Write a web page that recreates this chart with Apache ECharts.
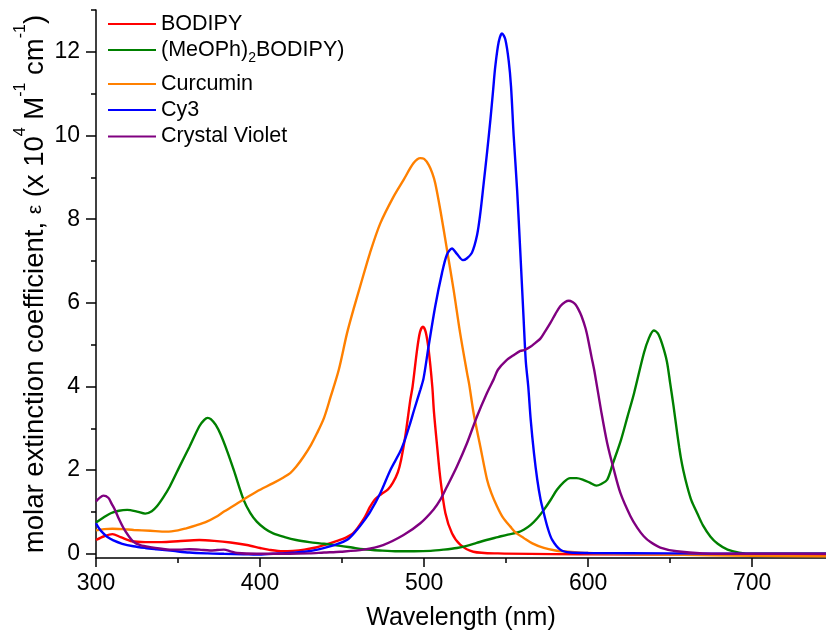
<!DOCTYPE html>
<html>
<head>
<meta charset="utf-8">
<script src="https://cdn.jsdelivr.net/npm/echarts@6/dist/echarts.min.js"></script>
<style>
  html, body { margin: 0; padding: 0; background: #fff; }
  #chart { width: 826px; height: 636px; }
</style>
</head>
<body>
<div id="chart"></div>
<script>
// Absorption spectra: [wavelength (nm), epsilon (x 10^4 M^-1 cm^-1)]
const bodipy = [
  [300,0.33],[305,0.42],[310,0.47],[315,0.40],[322,0.30],[330,0.28],[340,0.28],[350,0.30],
  [363,0.33],[372,0.31],[382,0.27],[392,0.21],[400,0.14],[405,0.10],[414,0.06],[420,0.07],
  [427,0.10],[434,0.15],[440,0.22],[447,0.31],[452,0.38],[457,0.50],[463,0.82],[467,1.12],
  [470,1.30],[474,1.43],[478,1.54],[481,1.70],[484,1.95],[486,2.25],[488.5,2.80],[491.6,3.68],
  [493,4.00],[495.7,4.87],[497.5,5.30],[499.3,5.43],[501,5.30],[502.8,4.87],[505,4.00],[506,3.40],
  [508,2.55],[510,1.77],[513,0.97],[517,0.49],[522,0.22],[530,0.05],[545,0.01],[600,-0.01],
  [700,-0.02],[745,-0.03]
];

const meophBodipy = [
  [300,0.75],[305,0.88],[309,0.97],[314,1.03],[319,1.05],[325,1.01],[330,0.96],[334,1.02],
  [337,1.13],[341,1.35],[345,1.61],[351,2.09],[357,2.56],[363,3.05],[366,3.20],[368,3.25],
  [370,3.22],[373,3.08],[376,2.85],[380,2.45],[384,2.00],[390,1.29],[394,0.98],[398,0.77],
  [403,0.60],[408,0.49],[415,0.40],[422,0.33],[430,0.28],[439,0.24],[449,0.19],[456,0.15],
  [463,0.11],[473,0.08],[484,0.06],[494,0.06],[504,0.07],[512,0.10],[520,0.14],[526,0.19],
  [532,0.26],[538,0.33],[545,0.40],[551,0.46],[557,0.51],[561,0.58],[565,0.69],[569,0.85],
  [573,1.05],[577,1.28],[581,1.53],[585,1.71],[589,1.81],[593,1.81],[597,1.77],[601,1.70],
  [605,1.63],[608,1.67],[611.6,1.77],[615,2.15],[620,2.72],[624,3.28],[628,3.84],[634,4.80],
  [637,5.15],[640,5.34],[642.5,5.27],[645,5.03],[648,4.60],[650,4.08],[652,3.55],[654.3,2.88],
  [655.5,2.55],[656.5,2.30],[658,2.00],[660.4,1.61],[663,1.27],[666.5,0.97],[670,0.68],
  [674.6,0.41],[679,0.24],[685,0.10],[692,0.03],[700,0.00],[745,0.00]
];

const curcumin = [
  [300,0.56],[305,0.59],[310,0.60],[316,0.59],[323,0.57],[333,0.55],[343,0.53],[350,0.56],
  [355,0.61],[361,0.68],[367.5,0.77],[373,0.88],[378,1.01],[388,1.25],[398,1.49],[408,1.69],
  [414,1.82],[418.4,1.93],[422,2.08],[426.5,2.32],[431,2.60],[434.7,2.88],[439,3.25],[443,3.75],
  [448,4.40],[453,5.27],[457,5.85],[461,6.39],[467,7.19],[473.3,7.90],[481.4,8.54],[487.5,8.94],
  [493.6,9.34],[497.7,9.46],[500,9.44],[502.8,9.30],[505,9.10],[506.8,8.86],[509.9,8.22],
  [514,7.26],[518,6.31],[522,5.27],[526.2,4.32],[527.5,4.05],[530.2,3.36],[534.3,2.56],
  [538.4,1.77],[541,1.45],[544.5,1.13],[548,0.87],[552.6,0.65],[556,0.50],[560.7,0.38],
  [566,0.25],[573,0.14],[580,0.08],[585,0.06],[600,0.02],[650,-0.02],[700,-0.05],[745,-0.06]
];

const cy3 = [
  [300,0.73],[302,0.60],[304.5,0.49],[307,0.40],[310.6,0.32],[316,0.24],[322.8,0.18],[330,0.14],
  [337,0.11],[347,0.07],[357,0.03],[368,0.01],[378,0.00],[390,-0.01],[398,-0.02],[408,0.00],
  [418,0.02],[427,0.05],[435,0.10],[442,0.17],[449,0.26],[454,0.36],[459,0.57],[463,0.77],
  [467.2,1.01],[473.3,1.45],[479.4,2.00],[485.5,2.45],[488.5,2.75],[491.6,3.13],[494,3.45],
  [497.7,3.92],[499.7,4.20],[502.7,4.95],[506.8,5.92],[510.9,6.71],[513.9,7.15],[517,7.30],
  [520,7.17],[523.7,7.02],[526,7.06],[529.2,7.20],[532.3,7.62],[534.3,8.15],[536.3,8.85],
  [538.4,9.60],[540.4,10.37],[542,11.05],[543.4,11.65],[545.5,12.24],[547.5,12.44],[549.5,12.30],
  [551.6,11.78],[553,11.17],[554.6,10.0],[556.7,8.70],[558.7,7.18],[560.7,5.59],[562,4.60],
  [563.5,4.00],[565,3.20],[567,2.40],[569,1.77],[571,1.30],[573,0.97],[575.5,0.60],[578,0.34],
  [583,0.10],[589,0.03],[600,0.02],[650,0.01],[700,0.00],[745,0.00]
];

const crystalViolet = [
  [300,1.25],[302,1.33],[304.5,1.39],[307.5,1.34],[309.5,1.20],[311.6,1.05],[314,0.83],
  [316.7,0.62],[320,0.42],[322.8,0.29],[327,0.21],[333,0.16],[340,0.12],[345,0.10],[351,0.10],
  [357,0.11],[363,0.10],[369.5,0.08],[374,0.09],[378,0.10],[382,0.06],[386,0.02],[398,0.00],
  [418,0.00],[430,0.01],[439,0.03],[449,0.05],[463,0.10],[475,0.21],[487.5,0.45],[497.7,0.73],
  [505.8,1.06],[510,1.30],[514,1.61],[520,2.09],[526.2,2.65],[532.3,3.29],[538.4,3.85],
  [542.4,4.17],[545,4.40],[550,4.62],[555,4.76],[558.7,4.85],[561,4.87],[564.8,4.95],[568,5.05],
  [571,5.15],[574,5.33],[577,5.52],[580,5.73],[583,5.92],[586,6.02],[588.2,6.05],[590.5,6.02],
  [592.3,5.96],[594,5.85],[596,5.68],[598.5,5.38],[600,5.12],[602,4.72],[604,4.33],[608,3.40],
  [611.6,2.65],[615.6,2.02],[619.7,1.45],[625.8,0.90],[630,0.62],[633.9,0.42],[638,0.28],
  [644,0.15],[654,0.06],[670,0.01],[700,0.00],[745,0.00]
];

const seriesNames = ['BODIPY', '(MeOPh)2BODIPY)', 'Curcumin', 'Cy3', 'Crystal Violet'];
const seriesColors = ['#ff0000', '#008000', '#ff8000', '#0000ff', '#800080'];
const seriesData = [bodipy, meophBodipy, curcumin, cy3, crystalViolet];

// Axis ticks
const xMajorTicks = [300, 400, 500, 600, 700];
const xMinorTicks = [350, 450, 550, 650];
const yMajorTicks = [0, 2, 4, 6, 8, 10, 12];
const yMinorTicks = [1, 3, 5, 7, 9, 11, 13];

const FONT = '"Liberation Sans", Arial, sans-serif';
const legendTops = [12, 35, 72, 98, 124.5];

const chart = echarts.init(document.getElementById('chart'), null, { renderer: 'canvas' });

const axisLineStyle = { color: '#000', width: 1.5 };

chart.setOption({
  animation: false,
  backgroundColor: '#fff',
  grid: { left: 96, right: 0, top: 10, bottom: 78, containLabel: false, outerBoundsMode: 'none' },
  legend: seriesNames.map((name, i) => ({
    data: [name],
    orient: 'vertical',
    left: 108,
    top: legendTops[i],
    itemWidth: 48,
    itemHeight: 2,
    icon: 'rect',
    padding: 0,
    selectedMode: false,
    formatter: n => n === '(MeOPh)2BODIPY)' ? '(MeOPh){sub|2}BODIPY)' : n,
    textStyle: {
      fontFamily: FONT, fontSize: 21.5, color: '#000', lineHeight: 24,
      rich: { sub: { fontFamily: FONT, fontSize: 14, lineHeight: 14, padding: [16, 0, 0, 0], color: '#000' } }
    }
  })),
  xAxis: [{
    type: 'value', min: 300, max: 745, position: 'bottom',
    name: 'Wavelength (nm)', nameLocation: 'middle', nameGap: 48, nameMoveOverlap: false,
    nameTextStyle: { fontFamily: FONT, fontSize: 25, color: '#000' },
    axisLine: { show: true, onZero: false, lineStyle: axisLineStyle },
    axisTick: { show: true, length: 9, customValues: xMajorTicks, lineStyle: axisLineStyle },
    axisLabel: { customValues: xMajorTicks, fontFamily: FONT, fontSize: 23, color: '#000', margin: 14 },
    splitLine: { show: false }
  }, {
    type: 'value', min: 300, max: 745, position: 'bottom',
    axisLine: { show: false, onZero: false },
    axisTick: { show: true, length: 5, customValues: xMinorTicks, lineStyle: axisLineStyle },
    axisLabel: { show: false },
    splitLine: { show: false }
  }],
  yAxis: [{
    type: 'value', min: -0.1, max: 13, position: 'left',
    name: 'molar extinction coefficient, {eps|ε} (x 10{sup|4} M{sup|-1} cm{sup|-1})',
    nameLocation: 'middle', nameGap: 46, nameMoveOverlap: false,
    nameTextStyle: {
      fontFamily: FONT, fontSize: 27.5, color: '#000', lineHeight: 30,
      rich: {
        sup: { fontFamily: FONT, fontSize: 16, lineHeight: 16, padding: [0, 0, 28, 0], color: '#000' },
        eps: { fontFamily: FONT, fontSize: 21, color: '#000' }
      }
    },
    axisLine: { show: true, onZero: false, lineStyle: axisLineStyle },
    axisTick: { show: true, length: 10, customValues: yMajorTicks, lineStyle: axisLineStyle },
    axisLabel: { customValues: yMajorTicks, fontFamily: FONT, fontSize: 23, color: '#000', margin: 16 },
    splitLine: { show: false }
  }, {
    type: 'value', min: -0.1, max: 13, position: 'left',
    axisLine: { show: false, onZero: false },
    axisTick: { show: true, length: 5, customValues: yMinorTicks, lineStyle: axisLineStyle },
    axisLabel: { show: false },
    splitLine: { show: false }
  }],
  series: seriesNames.map((name, i) => ({
    name,
    type: 'line',
    xAxisIndex: 0,
    yAxisIndex: 0,
    data: seriesData[i],
    symbol: 'none',
    smooth: 0.3,
    color: seriesColors[i],
    lineStyle: { color: seriesColors[i], width: 2.4 }
  }))
});
</script>
</body>
</html>
